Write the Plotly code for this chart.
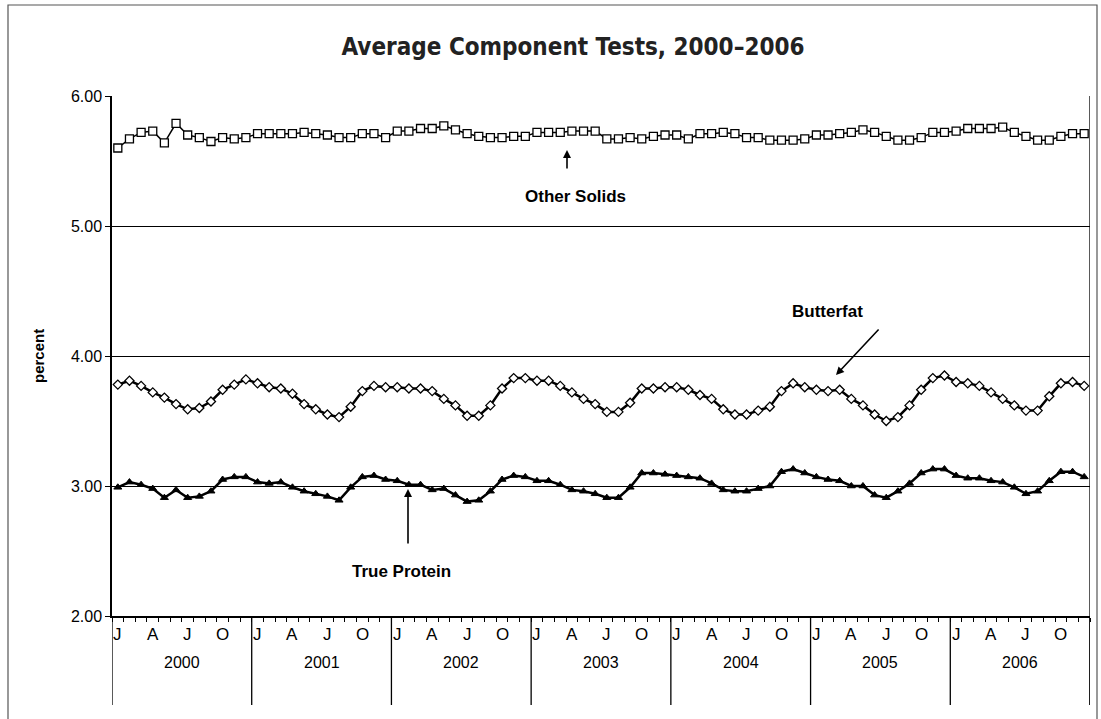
import plotly.graph_objects as go

years = ["2000", "2001", "2002", "2003", "2004", "2005", "2006"]
month_labels = ["J", "A", "J", "O"]
month_label_idx = [0, 3, 6, 9]

other_solids = [5.60, 5.67, 5.72, 5.73, 5.64, 5.79, 5.70, 5.68, 5.65, 5.68, 5.67, 5.68,
                5.71, 5.71, 5.71, 5.71, 5.72, 5.71, 5.70, 5.68, 5.68, 5.71, 5.71, 5.68,
                5.73, 5.73, 5.75, 5.75, 5.77, 5.74, 5.71, 5.69, 5.68, 5.68, 5.69, 5.69,
                5.72, 5.72, 5.72, 5.73, 5.73, 5.73, 5.67, 5.67, 5.68, 5.67, 5.69, 5.70,
                5.70, 5.67, 5.71, 5.71, 5.72, 5.71, 5.68, 5.68, 5.66, 5.66, 5.66, 5.67,
                5.70, 5.70, 5.71, 5.72, 5.74, 5.72, 5.69, 5.66, 5.66, 5.68, 5.72, 5.72,
                5.73, 5.75, 5.75, 5.75, 5.76, 5.72, 5.69, 5.66, 5.66, 5.69, 5.71, 5.71]

butterfat = [3.78, 3.81, 3.77, 3.72, 3.68, 3.63, 3.59, 3.60, 3.65, 3.74, 3.78, 3.82,
             3.79, 3.76, 3.75, 3.71, 3.63, 3.59, 3.55, 3.53, 3.61, 3.73, 3.77, 3.76,
             3.76, 3.75, 3.75, 3.73, 3.67, 3.62, 3.54, 3.54, 3.62, 3.75, 3.83, 3.83,
             3.81, 3.81, 3.77, 3.72, 3.67, 3.63, 3.57, 3.57, 3.64, 3.75, 3.75, 3.76,
             3.76, 3.74, 3.70, 3.67, 3.59, 3.55, 3.55, 3.58, 3.61, 3.73, 3.79, 3.76,
             3.74, 3.73, 3.74, 3.67, 3.62, 3.55, 3.50, 3.53, 3.62, 3.74, 3.83, 3.85,
             3.80, 3.79, 3.77, 3.72, 3.67, 3.62, 3.58, 3.58, 3.69, 3.79, 3.80, 3.77]

true_protein = [2.99, 3.03, 3.01, 2.98, 2.91, 2.97, 2.91, 2.92, 2.96, 3.05, 3.07, 3.07,
                3.03, 3.02, 3.03, 2.99, 2.96, 2.94, 2.92, 2.89, 2.99, 3.07, 3.08, 3.05,
                3.04, 3.01, 3.01, 2.97, 2.98, 2.93, 2.88, 2.89, 2.96, 3.05, 3.08, 3.07,
                3.04, 3.04, 3.01, 2.97, 2.96, 2.94, 2.91, 2.91, 2.99, 3.10, 3.10, 3.09,
                3.08, 3.07, 3.06, 3.02, 2.97, 2.96, 2.96, 2.98, 3.00, 3.11, 3.13, 3.10,
                3.07, 3.05, 3.04, 3.00, 3.00, 2.93, 2.91, 2.96, 3.02, 3.10, 3.13, 3.13,
                3.08, 3.06, 3.06, 3.04, 3.03, 2.99, 2.94, 2.96, 3.04, 3.11, 3.11, 3.07]

n = len(other_solids)
xs = [i + 0.5 for i in range(n)]

fig = go.Figure()
fig.add_trace(go.Scatter(x=xs, y=other_solids, mode="lines+markers", name="Other Solids",
                         line=dict(color="black", width=1.5),
                         marker=dict(symbol="square", size=8, color="white",
                                     line=dict(color="black", width=1.3))))
fig.add_trace(go.Scatter(x=xs, y=butterfat, mode="lines+markers", name="Butterfat",
                         line=dict(color="black", width=2.5),
                         marker=dict(symbol="diamond", size=7, color="white",
                                     line=dict(color="black", width=1.3))))
fig.add_trace(go.Scatter(x=xs, y=true_protein, mode="lines+markers", name="True Protein",
                         line=dict(color="black", width=2.5),
                         marker=dict(symbol="triangle-up", size=7, color="black",
                                     line=dict(color="black", width=1))))

L, R, T, B = 112, 1090, 96, 616
W, H = 1101, 719
pw, ph = R - L, B - T

def px_x(p):
    return (p - L) / pw

def px_y(p):
    return (B - p) / ph

shapes = []
# outer frame
shapes.append(dict(type="rect", xref="paper", yref="paper",
                   x0=px_x(8), x1=px_x(1097), y0=px_y(740), y1=px_y(5),
                   line=dict(color="#555", width=1.2), fillcolor="rgba(0,0,0,0)", layer="below"))
# right plot border
shapes.append(dict(type="line", xref="x", yref="paper", x0=n, x1=n, y0=px_y(705), y1=1,
                   line=dict(color="black", width=1.3)))
# year dividers below axis
for k in range(len(years) + 1):
    shapes.append(dict(type="line", xref="x", yref="paper", x0=12 * k, x1=12 * k,
                       y0=px_y(705), y1=0, line=dict(color="black", width=1.3)))

annotations = []
for k, yr in enumerate(years):
    annotations.append(dict(x=12 * k + 6, y=px_y(662), xref="x", yref="paper", text=yr,
                            xanchor="center", yanchor="middle",
                            showarrow=False, font=dict(family="Arial", size=16, color="black")))
    for lab, m in zip(month_labels, month_label_idx):
        annotations.append(dict(x=12 * k + m + 0.5, y=px_y(634), xref="x", yref="paper",
                                text=lab, showarrow=False, xanchor="center", yanchor="middle",
                                font=dict(family="Arial", size=17, color="black")))

lab_font = dict(family="Arial", size=17, color="black")
annotations += [
    dict(x=(575 - L) / pw * n, y=6 - (196 - T) / 130, xref="x", yref="y", text="<b>Other Solids</b>",
         showarrow=False, font=lab_font, xanchor="center", yanchor="middle"),
    dict(x=(567 - L) / pw * n, y=6 - (150 - T) / 130, xref="x", yref="y", text="",
         showarrow=True, ax=0, ay=20, arrowhead=2, arrowsize=1, arrowwidth=1.6, arrowcolor="black"),
    dict(x=(827 - L) / pw * n, y=6 - (311 - T) / 130, xref="x", yref="y", text="<b>Butterfat</b>",
         showarrow=False, font=lab_font, xanchor="center", yanchor="middle"),
    dict(x=(836 - L) / pw * n, y=6 - (375 - T) / 130, xref="x", yref="y", text="",
         showarrow=True, ax=44, ay=-47, arrowhead=2, arrowsize=1, arrowwidth=1.6, arrowcolor="black"),
    dict(x=(401 - L) / pw * n, y=6 - (571 - T) / 130, xref="x", yref="y", text="<b>True Protein</b>",
         showarrow=False, font=lab_font, xanchor="center", yanchor="middle"),
    dict(x=(408 - L) / pw * n, y=6 - (489 - T) / 130, xref="x", yref="y", text="",
         showarrow=True, ax=0, ay=56, arrowhead=2, arrowsize=1, arrowwidth=1.6, arrowcolor="black"),
    dict(x=px_x(38), y=px_y(356), xref="paper", yref="paper", text="<b>percent</b>",
         xanchor="center", yanchor="middle",
         textangle=-90, showarrow=False, font=dict(family="Arial", size=15, color="black")),
]

fig.update_layout(
    width=W, height=H,
    margin=dict(l=L, r=W - R, t=T, b=H - B, autoexpand=False),
    paper_bgcolor="white", plot_bgcolor="white",
    showlegend=False,
    title=dict(text="<b>Average Component Tests, 2000\u20132006</b>", x=573 / W, xanchor="center",
               y=1 - 47 / H, yanchor="middle", automargin=False,
               font=dict(family="DejaVu Sans Condensed, Liberation Sans Narrow, Arial", size=24,
                         color="#222")),
    xaxis=dict(range=[0, n], showgrid=False, zeroline=False, showline=True, linecolor="black",
               linewidth=1.5, ticks="outside", tick0=0, dtick=1, ticklen=4, tickwidth=1,
               tickcolor="black", showticklabels=False, fixedrange=True, automargin=False),
    yaxis=dict(range=[2, 6], dtick=1, tickformat=".2f", showgrid=True, gridcolor="black",
               gridwidth=1.2, zeroline=False, showline=True, linecolor="black", linewidth=1.5,
               ticks="outside", ticklen=5, tickcolor="black", automargin=False,
               tickfont=dict(family="Arial", size=16, color="black"), fixedrange=True),
    shapes=shapes, annotations=annotations,
)

fig.write_html("out.html", config={"displayModeBar": False},
               post_script="document.body.style.margin='0px';document.body.style.overflow='hidden';")
